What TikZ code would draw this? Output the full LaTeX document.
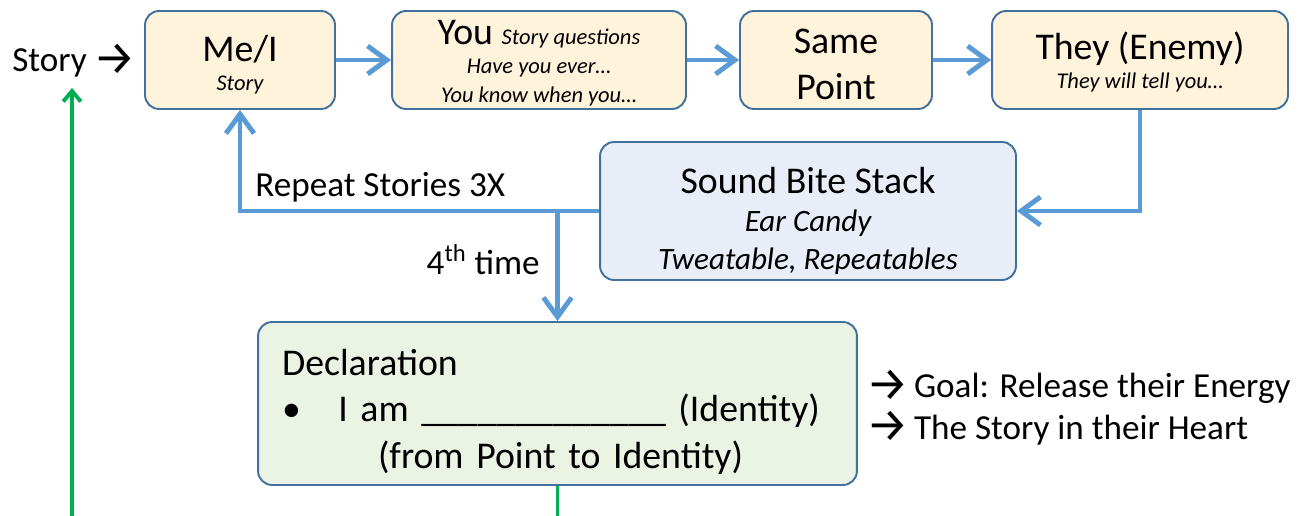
\documentclass[tikz,border=0pt]{standalone}
\usepackage{fontspec}
\usepackage{graphicx}
\setmainfont{Carlito}
\newfontfamily\arrowfont{Fira Sans}
\usetikzlibrary{arrows.meta}
\definecolor{flow}{HTML}{5B9BD5}
\definecolor{edge}{HTML}{41719C}
\definecolor{cream}{HTML}{FFF3DC}
\definecolor{bitefill}{HTML}{E8EDF7}
\definecolor{declfill}{HTML}{EBF3E4}
\definecolor{loopgreen}{HTML}{00B050}
\newcommand\bigtxt[1]{\fontsize{21.5pt}{#1}\selectfont}
\newcommand\smit{\fontsize{12.8pt}{16pt}\selectfont\itshape}
\newcommand\midit{\fontsize{17.7pt}{21pt}\selectfont\itshape}
\newcommand\goarrow{\smash{\arrowfont\fontsize{27pt}{27pt}\selectfont\raisebox{-1.7pt}{→}}}
\newcommand\lift[1]{\rule{0pt}{#1}}

\begin{document}
\begin{tikzpicture}[x=0.02cm,y=-0.02cm,
    box/.style={draw=edge,line width=1.1pt,rounded corners=8pt,inner sep=0pt},
    topbox/.style={box,fill=cream,align=center,minimum width=#1,minimum height=1.96cm},
    plaintext/.style={inner sep=0pt,font=\fontsize{20pt}{24pt}\selectfont},
    flowarrow/.style={flow,line width=2.8pt,-{Straight Barb[length=11pt,width=16pt]}},
    greenarrow/.style={loopgreen,line width=2.2pt,-{Straight Barb[length=6pt,width=10pt]}}]
    \useasboundingbox (0,0) rectangle (1301,516);

    \path
    (240,60) node[topbox=3.8cm,font=\bigtxt{16.5pt}] (meI) {\lift{20.3pt}Me/I\\{\smit Story}}
    (539,60) node[topbox=5.88cm,font=\bigtxt{16.4pt}] (you)
      {\lift{17.3pt}You {\smit Story questions}\\{\smit Have you ever…}\\{\smit You know when you…}}
    (836,60) node[topbox=3.84cm,font=\bigtxt{26pt}] (same) {\lift{19.2pt}Same\\Point}
    (1140,60) node[topbox=5.92cm,font=\bigtxt{16.4pt}] (they)
      {\lift{18.3pt}They (Enemy)\\{\smit They will tell you…}}
    ;

    \node[box,fill=bitefill,align=center,minimum width=8.32cm,minimum height=2.76cm,
      font=\bigtxt{21.5pt}] (sound) at (808,211)
      {\lift{26.4pt}Sound Bite Stack\\{\midit Ear Candy}\\{\midit Tweatable, Repeatables}};

    \node[box,fill=declfill,align=left,text width=11.02cm,inner xsep=0.48cm,
      minimum height=3.26cm,font=\bigtxt{26.6pt}] (decl) at (557.5,403.5)
      {\lift{24.5pt}Declaration\\
       \textbullet\hspace{0.75cm}I am \_\_\_\_\_\_\_\_\_\_\_\_\_ (Identity)\\
       \hspace{1.92cm}(from Point to Identity)};

    \node[plaintext,anchor=base west] (story) at (12,72) {Story\hspace{0.14cm}\goarrow};
    \node[plaintext,anchor=base west] (repeat) at (255,197) {Repeat Stories 3X};
    \node[plaintext,anchor=base east] (fourth) at (540,275) {4\textsuperscript{th} time};
    \node[plaintext,anchor=base west] (goal) at (866,398) {\goarrow\hspace{0.1cm}Goal: Release their Energy};
    \node[plaintext,anchor=base west] (heart) at (866,439) {\goarrow\hspace{0.1cm}The Story in their Heart};

    \draw[flowarrow] (meI) -- (you);
    \draw[flowarrow] (you) -- (same);
    \draw[flowarrow] (same) -- (they);
    \draw[flowarrow] (they.south) |- (sound.east);
    \draw[flowarrow] (sound.west) -| (meI.south);
    \draw[flowarrow] (decl.north |- sound.west) -- (decl.north);

    \coordinate (gstart) at (72,516);
    \coordinate (gtip) at (72,88);
    \draw[greenarrow] (gstart) -- (gtip);
    \draw[loopgreen,line width=2.2pt] (decl.south) -- (decl.south |- gstart);
\end{tikzpicture}
\end{document}
